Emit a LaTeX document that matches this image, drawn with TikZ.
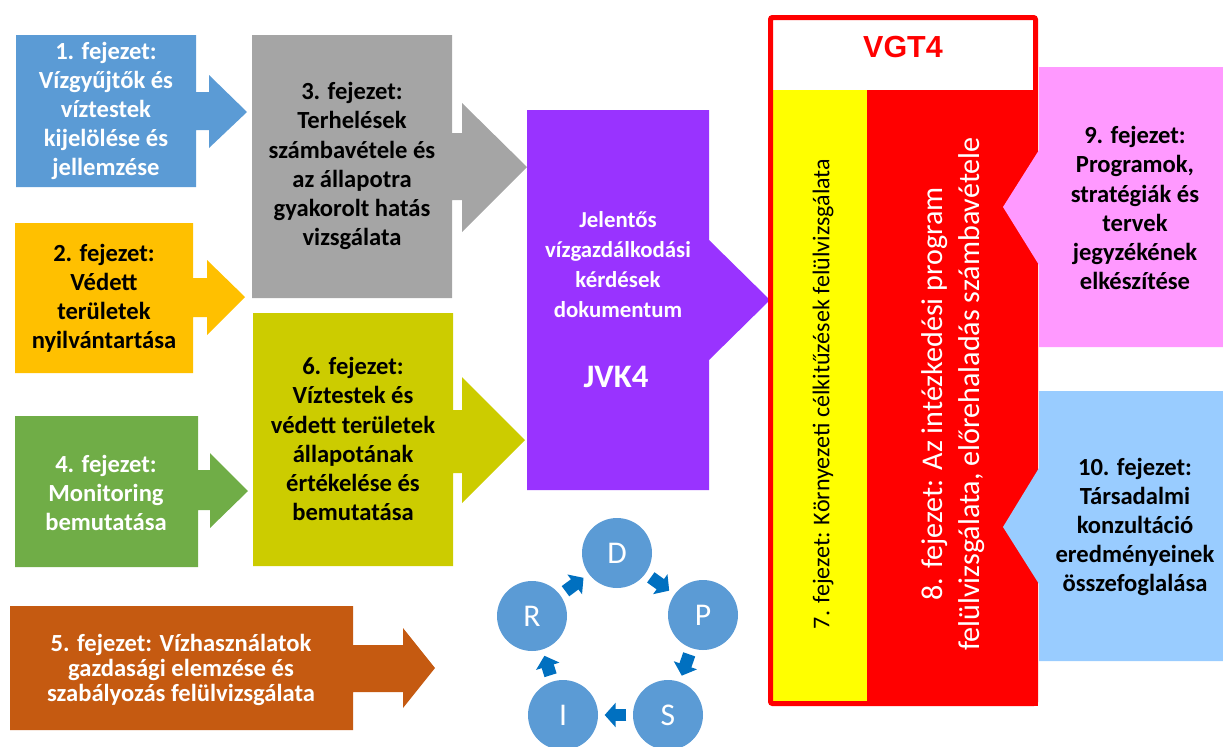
\documentclass[tikz,border=0pt]{standalone}
\usepackage{fontspec}
\setmainfont{Carlito}
\newfontfamily\arialfont{Liberation Sans}
\usepackage{xcolor}
\usetikzlibrary{arrows.meta}

\definecolor{kek}{HTML}{5B9BD5}
\definecolor{narancs}{HTML}{FFC000}
\definecolor{zold}{HTML}{70AD47}
\definecolor{szurke}{HTML}{A5A5A5}
\definecolor{oliva}{HTML}{CCCC00}
\definecolor{lila}{HTML}{9933FF}
\definecolor{barna}{HTML}{C55A11}
\definecolor{sarga}{HTML}{FFFF00}
\definecolor{piros}{HTML}{FF0000}
\definecolor{rozsa}{HTML}{FF99FF}
\definecolor{vkek}{HTML}{99CCFF}
\definecolor{sotetkek}{HTML}{0070C0}

\begin{document}
\begin{tikzpicture}[x=0.03cm, y=-0.03cm,
  fej/.style={align=center, inner sep=0pt, font=\bfseries\fontsize{21}{24.8}\selectfont},
  kor/.style={circle, fill=kek, minimum size=2.1cm, inner sep=0pt, outer sep=0pt, text=white, font=\fontsize{27}{30}\selectfont},
  kornyil/.style={sotetkek, line width=0.38cm, -{Triangle[width=0.72cm, length=0.33cm]}, shorten <=0.2cm, shorten >=0.2cm}]
\useasboundingbox (0,0) rectangle (1223,746);

% bal oszlop
\fill[kek] (16,35) -- (196,35) -- (196,92) -- (209,92) -- (209,75) -- (247,112) -- (209,148) -- (209,130) -- (196,130) -- (196,187) -- (16,187) -- cycle;
\node[fej, text=white] (c1) at (106,111) {1. fejezet:\\Vízgyűjtők és\\víztestek\\kijelölése és\\jellemzése};

\fill[narancs] (15,223) -- (193,223) -- (193,278) -- (207,278) -- (207,260) -- (245,297) -- (207,335) -- (207,317) -- (193,317) -- (193,373) -- (15,373) -- cycle;
\node[fej] (c2) at (104,298) {2. fejezet:\\Védett\\területek\\nyilvántartása};

\fill[zold] (15,416) -- (198,416) -- (198,470) -- (210,470) -- (210,453) -- (248,491) -- (210,528) -- (210,510) -- (198,510) -- (198,567) -- (15,567) -- cycle;
\node[fej, text=white] (c4) at (106,493) {4. fejezet:\\Monitoring\\bemutatása};

\fill[barna] (10,606) -- (353,606) -- (353,645) -- (403,645) -- (403,628) -- (435,668) -- (403,708) -- (403,692) -- (353,692) -- (353,730) -- (10,730) -- cycle;
\node[fej, text=white, font=\bfseries\fontsize{21}{21}\selectfont] (c5) at (181,670) {5. fejezet: Vízhasználatok\\gazdasági elemzése és\\szabályozás felülvizsgálata};

% kozepso oszlop
\fill[szurke] (252,35) -- (452,35) -- (452,133) -- (462,133) -- (462,103) -- (527,167) -- (462,232) -- (462,200) -- (452,200) -- (452,298) -- (252,298) -- cycle;
\node[fej] (c3) at (352,166) {3. fejezet:\\Terhelések\\számbavétele és\\az állapotra\\gyakorolt hatás\\vizsgálata};

\fill[oliva] (253,313) -- (453,313) -- (453,410) -- (462,410) -- (462,377) -- (525,440) -- (462,503) -- (462,473) -- (453,473) -- (453,566) -- (253,566) -- cycle;
\node[fej] (c6) at (353,439) {6. fejezet:\\Víztestek és\\védett területek\\állapotának\\értékelése és\\bemutatása};

\fill[lila] (527,110) -- (709,110) -- (709,240) -- (770,300) -- (709,360) -- (709,490) -- (527,490) -- cycle;
\node[fej, text=white, font=\bfseries\fontsize{19.5}{25.6}\selectfont] (jvk) at (618,265) {Jelentős\\vízgazdálkodási\\kérdések\\dokumentum};
\node[fej, text=white, font=\bfseries\fontsize{28}{30}\selectfont] (jvk4) at (616,377) {JVK4};

% VGT4
\fill[sarga] (773,90) rectangle (867,702);
\fill[piros] (867,90) rectangle (1038,706);
\draw[piros, line width=0.15cm, rounded corners=0.06cm] (770.5,17.5) rectangle (1035.5,703.5);
\node[text=piros, font=\arialfont\bfseries\fontsize{26}{30}\selectfont] (vgt) at (903,47) {VGT4};
\node[rotate=90, inner sep=0pt, font=\fontsize{20.5}{23}\selectfont] (c7) at (823,394) {7. fejezet: Környezeti célkitűzések felülvizsgálata};
\node[rotate=90, inner sep=0pt, align=center, text=white, font=\fontsize{25.7}{32}\selectfont] (c8) at (953,394) {8. fejezet: Az intézkedési program\\felülvizsgálata, előrehaladás számbavétele};

% jobb oszlop
\fill[rozsa] (1039,67) -- (1223,67) -- (1223,347) -- (1039,347) -- (1039,265) -- (1003,207) -- (1039,150) -- cycle;
\node[fej] (c9) at (1135,208) {9. fejezet:\\Programok,\\stratégiák és\\tervek\\jegyzékének\\elkészítése};

\fill[vkek] (1039,391) -- (1223,391) -- (1223,661) -- (1039,661) -- (1039,584) -- (1003,527) -- (1039,468) -- cycle;
\node[fej] (c10) at (1135,527) {10. fejezet:\\Társadalmi\\konzultáció\\eredményeinek\\összefoglalása};

% DPSIR kor
\node[kor] (d) at (617,553) {D};
\node[kor] (p) at (703,615) {P};
\node[kor] (s) at (668,715) {S};
\node[kor] (i) at (563,715) {I};
\node[kor] (r) at (532,616) {R};
\draw[kornyil] (d) -- (p);
\draw[kornyil] (p) -- (s);
\draw[kornyil] (s) -- (i);
\draw[kornyil] (i) -- (r);
\draw[kornyil] (r) -- (d);
\end{tikzpicture}
\end{document}
